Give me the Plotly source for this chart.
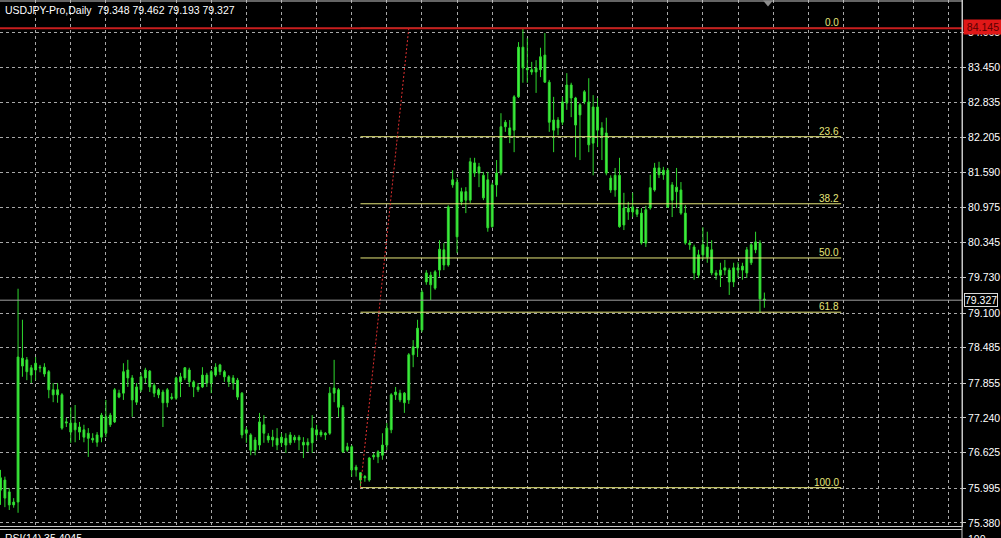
import plotly.graph_objects as go

# ---------------- data (USDJPY-Pro, Daily) ----------------
open_ = [75.96, 76.14, 75.93, 75.70, 75.75, 78.30, 78.27, 78.00, 78.09, 78.14,
         78.14, 78.06, 77.74, 77.65, 77.65, 77.15, 77.15, 77.03, 77.08, 77.03,
         76.97, 76.88, 76.81, 76.90, 77.26, 77.12, 77.17, 77.68, 77.68, 77.95,
         77.95, 77.52, 77.74, 77.95, 78.07, 77.82, 77.74, 77.70, 77.51, 77.61,
         77.59, 77.88, 77.95, 78.09, 77.88, 77.74, 77.79, 77.86, 77.86, 78.00,
         78.06, 78.06, 77.97, 77.95, 77.91, 77.68, 76.97, 76.94, 76.67, 76.76,
         77.12, 76.92, 76.85, 76.88, 76.80, 76.88, 76.80, 76.90, 76.85, 76.81,
         76.76, 76.80, 77.03, 76.94, 76.97, 76.97, 77.68, 77.74, 77.43, 76.67,
         76.73, 76.32, 76.27, 76.18, 76.14, 76.55, 76.55, 76.58, 76.76, 77.03,
         77.65, 77.68, 77.51, 77.56, 78.36, 78.48, 78.80, 79.65, 79.77, 79.54,
         79.86, 80.22, 79.95, 81.37, 81.42, 81.07, 81.25, 81.10, 81.76, 81.58,
         81.54, 81.46, 80.63, 81.37, 81.58, 82.40, 82.38, 82.34, 82.93, 83.81,
         83.44, 83.41, 83.37, 83.41, 83.67, 83.19, 82.34, 82.52, 82.48, 82.82,
         83.14, 82.91, 82.61, 82.84, 82.84, 82.11, 82.75, 82.38, 82.29, 81.49,
         81.28, 81.54, 80.66, 80.96, 80.89, 80.93, 80.87, 80.34, 80.96, 81.28,
         81.67, 81.55, 81.63, 81.10, 81.33, 81.28, 80.87, 80.34, 80.27, 79.77,
         80.13, 80.27, 80.22, 79.81, 79.77, 79.86, 79.86, 79.65, 79.90, 79.86,
         79.81, 79.99, 80.22, 80.34, 79.348]
high = [76.32, 76.20, 76.00, 75.82, 79.53, 78.98, 78.32, 78.18, 78.32, 78.18,
        78.21, 78.09, 77.86, 77.86, 77.68, 77.24, 77.43, 77.47, 77.17, 77.12,
        77.06, 76.97, 76.99, 77.33, 77.56, 77.33, 77.77, 77.74, 78.21, 78.27,
        78.00, 77.86, 78.04, 78.13, 78.09, 77.86, 77.77, 77.74, 77.77, 77.68,
        77.97, 78.04, 78.14, 78.13, 77.91, 77.86, 78.14, 78.04, 78.09, 78.21,
        78.20, 78.09, 78.00, 78.00, 77.95, 77.70, 77.08, 76.97, 76.90, 77.33,
        77.29, 76.97, 77.03, 77.06, 76.97, 76.97, 76.99, 76.94, 76.94, 76.90,
        76.88, 77.29, 77.12, 77.03, 76.99, 77.79, 78.27, 77.77, 77.47, 76.80,
        76.76, 76.41, 76.28, 76.23, 76.55, 76.62, 76.67, 76.97, 77.15, 77.68,
        77.79, 77.74, 77.70, 78.39, 78.62, 78.98, 79.51, 79.86, 79.83, 79.86,
        80.39, 80.34, 81.01, 81.63, 81.49, 81.32, 81.33, 81.85, 81.85, 81.76,
        81.60, 81.60, 81.41, 81.81, 82.64, 82.52, 82.52, 82.96, 83.90, 84.145,
        83.97, 83.55, 83.58, 83.80, 84.06, 83.23, 82.93, 82.57, 82.93, 83.35,
        83.18, 82.93, 82.82, 83.05, 83.26, 82.96, 82.91, 82.48, 82.56, 81.54,
        81.67, 81.85, 81.23, 81.07, 81.23, 80.96, 80.96, 81.00, 81.55, 81.76,
        81.78, 81.69, 81.67, 81.42, 81.67, 81.42, 81.01, 80.39, 80.31, 80.22,
        80.62, 80.54, 80.39, 79.86, 79.99, 80.04, 79.90, 79.99, 80.00, 79.99,
        80.27, 80.34, 80.54, 80.39, 79.462]
low = [75.70, 75.66, 75.61, 75.65, 75.56, 77.97, 77.91, 77.86, 77.91, 78.05,
       77.97, 77.59, 77.52, 77.51, 77.03, 77.08, 76.80, 76.81, 76.85, 76.81,
       76.55, 76.80, 76.73, 76.81, 76.90, 77.08, 77.15, 77.59, 77.56, 77.79,
       77.26, 77.47, 77.70, 77.86, 77.70, 77.61, 77.59, 77.08, 77.43, 77.56,
       77.56, 77.61, 77.91, 77.79, 77.61, 77.70, 77.77, 77.79, 77.68, 77.97,
       78.00, 77.88, 77.79, 77.74, 77.56, 76.88, 76.80, 76.58, 76.58, 76.67,
       76.80, 76.80, 76.73, 76.67, 76.73, 76.62, 76.76, 76.80, 76.67, 76.53,
       76.64, 76.62, 76.85, 76.90, 76.85, 76.94, 77.52, 77.26, 76.62, 76.64,
       76.20, 76.20, 76.005, 76.11, 76.11, 76.50, 76.44, 76.50, 76.67, 76.97,
       77.56, 77.52, 77.33, 77.49, 78.14, 78.32, 78.76, 79.60, 79.33, 79.51,
       79.74, 79.86, 79.92, 81.32, 80.16, 81.01, 80.87, 81.05, 81.51, 81.33,
       81.10, 80.54, 80.61, 81.16, 81.54, 82.31, 82.11, 81.95, 82.91, 83.18,
       83.18, 83.32, 83.00, 83.28, 83.18, 82.31, 81.95, 82.25, 82.43, 82.70,
       82.57, 81.86, 81.81, 82.80, 81.95, 81.54, 82.04, 81.81, 81.54, 81.23,
       81.16, 80.61, 80.57, 80.75, 80.80, 80.80, 80.31, 80.27, 80.93, 81.25,
       81.49, 81.46, 80.96, 80.80, 80.96, 80.84, 80.31, 80.22, 79.69, 79.72,
       80.04, 79.99, 79.77, 79.69, 79.56, 79.77, 79.42, 79.56, 79.72, 79.69,
       79.72, 79.95, 80.16, 79.10, 79.193]
close = [76.18, 75.82, 75.70, 75.75, 78.32, 78.16, 78.06, 78.13, 78.21, 78.13,
         78.02, 77.74, 77.65, 77.74, 77.06, 77.17, 76.99, 77.15, 76.99, 76.90,
         76.88, 76.85, 76.94, 77.29, 76.97, 77.29, 77.74, 77.61, 78.06, 78.09,
         77.56, 77.79, 77.97, 78.09, 77.79, 77.68, 77.65, 77.51, 77.74, 77.59,
         77.95, 77.97, 78.13, 77.88, 77.79, 77.79, 78.00, 78.00, 78.06, 78.14,
         78.18, 77.97, 77.88, 77.86, 77.61, 76.94, 77.03, 76.67, 76.85, 77.17,
         76.97, 76.85, 76.90, 76.76, 76.90, 76.76, 76.94, 76.85, 76.90, 76.76,
         76.81, 77.06, 76.94, 76.99, 76.94, 77.68, 77.77, 77.43, 76.64, 76.73,
         76.32, 76.37, 76.14, 76.20, 76.53, 76.58, 76.64, 76.76, 77.06, 77.65,
         77.70, 77.56, 77.68, 78.36, 78.50, 78.83, 79.47, 79.81, 79.60, 79.83,
         80.23, 79.95, 80.98, 81.46, 80.45, 81.25, 81.10, 81.78, 81.58, 81.69,
         81.14, 80.61, 81.37, 81.58, 82.40, 82.48, 82.25, 82.93, 83.81, 83.44,
         83.41, 83.37, 83.44, 83.64, 83.19, 82.48, 82.52, 82.38, 82.84, 83.14,
         82.91, 82.43, 82.79, 83.02, 82.08, 82.75, 82.34, 82.25, 81.58, 81.28,
         81.54, 80.63, 80.96, 80.89, 80.98, 80.85, 80.34, 80.93, 81.32, 81.67,
         81.55, 81.63, 80.98, 81.37, 81.25, 80.87, 80.34, 80.31, 79.81, 80.13,
         80.31, 80.09, 79.81, 79.77, 79.86, 79.90, 79.65, 79.90, 79.86, 79.93,
         80.22, 80.31, 80.36, 79.35, 79.327]

price_ticks = [84.065, 83.450, 82.835, 82.205, 81.590, 80.975, 80.345, 79.730,
               79.100, 78.485, 77.855, 77.240, 76.625, 75.995, 75.380]

fib_high = 84.145
fib_low = 76.005
fib_levels = [0.0, 23.6, 38.2, 50.0, 61.8, 100.0]
fib_labels = ["0.0", "23.6", "38.2", "50.0", "61.8", "100.0"]
fib_start_bar = 82
fib_peak_bar = 93
fib_end_bar = 191.5

title_text = "USDJPY-Pro,Daily\u00a0 79.348 79.462 79.193 79.327"
rsi_text = "RSI(14) 35.4045"

# ---------------- layout constants ----------------
W, H = 1001, 538
ML, MR, MT, MB = 0, 39, 0, 12
PW, PH = W - ML - MR, H - MT - MB


def py(pix):
    return 1 - pix / PH


def px(pix):
    return pix / PW


FONT = "Liberation Sans, Arial, sans-serif"
GRID = "#a8a8a8"
FRAME = "#c8c8c8"
FIB = "#e6e67a"
CANDLE_LINE = "#2ed82e"
CANDLE_FILL = "#46f046"

bars = list(range(len(close)))

fig = go.Figure()
fig.add_trace(go.Candlestick(
    x=bars, open=open_, high=high, low=low, close=close,
    increasing=dict(line=dict(color=CANDLE_LINE, width=1), fillcolor=CANDLE_FILL),
    decreasing=dict(line=dict(color=CANDLE_LINE, width=1), fillcolor=CANDLE_FILL),
    whiskerwidth=0, hoverinfo="skip", showlegend=False,
))

shapes = []
annotations = []

# Fibonacci levels
span = fib_high - fib_low
for lvl, lab in zip(fib_levels, fib_labels):
    p = fib_high - span * lvl / 100.0
    shapes.append(dict(type="line", xref="x", yref="y", x0=fib_start_bar, x1=fib_end_bar,
                       y0=p, y1=p, line=dict(color=FIB, width=1)))
    annotations.append(dict(xref="x", yref="y", x=fib_end_bar, y=p, text=lab,
                            xanchor="right", yanchor="bottom", showarrow=False, yshift=-2,
                            font=dict(family=FONT, size=10, color=FIB)))

# fib base trendline (dotted red)
shapes.append(dict(type="line", xref="x", yref="y", x0=fib_start_bar, y0=fib_low,
                   x1=fib_peak_bar, y1=fib_high,
                   line=dict(color="#e03030", width=1, dash="2px,2px")))

# red horizontal line at fib high
shapes.append(dict(type="line", xref="paper", yref="y", x0=0, x1=1, y0=fib_high, y1=fib_high,
                   line=dict(color="#c81e1e", width=2)))

# current price line
shapes.append(dict(type="line", xref="paper", yref="y", x0=0, x1=1, y0=close[-1], y1=close[-1],
                   line=dict(color="#a0a0a0", width=1)))

# frame lines
shapes.append(dict(type="line", xref="paper", yref="paper", x0=1, x1=1, y0=py(H), y1=1,
                   line=dict(color=FRAME, width=1)))
shapes.append(dict(type="line", xref="paper", yref="paper", x0=0, x1=1, y0=py(529.5), y1=py(529.5),
                   line=dict(color=FRAME, width=1)))
shapes.append(dict(type="line", xref="paper", yref="paper", x0=0, x1=1, y0=py(1), y1=py(1),
                   line=dict(color=FRAME, width=1)))
# chart-shift marker
shapes.append(dict(type="path", xref="paper", yref="paper",
                   path=f"M {px(763)},{py(0.5)} L {px(773)},{py(0.5)} L {px(768)},{py(6.5)} Z",
                   fillcolor="#8c8c8c", line=dict(width=0)))

# title
annotations.append(dict(xref="paper", yref="paper", x=px(3), y=py(10), text=title_text,
                        xanchor="left", yanchor="middle", showarrow=False,
                        font=dict(family=FONT, size=10.5, color="white")))
# RSI sub-window caption (mostly cut off)
annotations.append(dict(xref="paper", yref="paper", x=px(3), y=py(538), text=rsi_text,
                        xanchor="left", yanchor="middle", showarrow=False,
                        font=dict(family=FONT, size=10.5, color="white")))
annotations.append(dict(xref="paper", yref="paper", x=1, y=py(539), text="100", xshift=4,
                        xanchor="left", yanchor="middle", showarrow=False,
                        font=dict(family=FONT, size=10.5, color="white")))

# price labels on axis
annotations.append(dict(xref="paper", yref="y", x=1, y=fib_high, text=f"{fib_high:.3f}",
                        xanchor="left", yanchor="middle", xshift=1, yshift=1, showarrow=False,
                        bgcolor="#e01818", borderpad=1, width=36,
                        font=dict(family=FONT, size=10.5, color="#5a0000")))
annotations.append(dict(xref="paper", yref="y", x=1, y=close[-1], text=f"{close[-1]:.3f}",
                        xanchor="left", yanchor="middle", xshift=2, showarrow=False,
                        bgcolor="black", bordercolor="#d8d8d8", borderwidth=1, borderpad=0,
                        font=dict(family=FONT, size=10.5, color="white")))

fig.update_layout(
    width=W, height=H,
    margin=dict(l=ML, r=MR, t=MT, b=MB, pad=0),
    paper_bgcolor="black", plot_bgcolor="black",
    showlegend=False, boxgap=0.4,
    shapes=shapes, annotations=annotations,
    xaxis=dict(
        range=[-0.114, 219.02], tickvals=list(range(8, 220, 8)),
        showticklabels=False, ticks="", showgrid=True, gridcolor=GRID, gridwidth=1,
        griddash="3px,3px", zeroline=False, showline=True, linecolor=FRAME, linewidth=1,
        rangeslider=dict(visible=False), fixedrange=True,
    ),
    yaxis=dict(
        side="right", range=[75.326, 84.646], tickvals=price_ticks, tickformat=".3f",
        ticks="outside", ticklen=3, tickcolor=FRAME,
        tickfont=dict(family=FONT, size=10.5, color="white"),
        showgrid=True, gridcolor=GRID, gridwidth=1, griddash="3px,3px",
        zeroline=False, showline=True, linecolor=FRAME, linewidth=1, fixedrange=True,
        automargin=False,
    ),
)

fig.write_html(
    "out.html",
    config={"displayModeBar": False},
    post_script="document.body.style.margin='0';document.body.style.overflow='hidden';",
)
